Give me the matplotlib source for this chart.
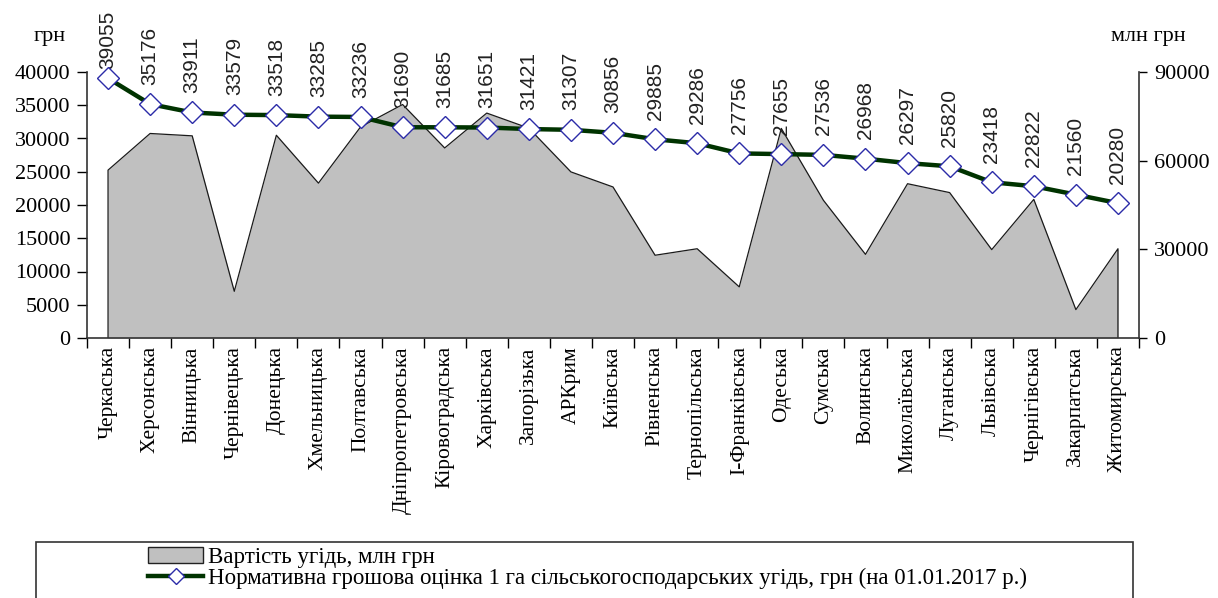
import matplotlib.pyplot as plt
from matplotlib.patches import Rectangle
from matplotlib.ticker import FixedLocator

regions = ['Черкаська', 'Херсонська', 'Вінницька', 'Чернівецька', 'Донецька',
           'Хмельницька', 'Полтавська', 'Дніпропетровська', 'Кіровоградська',
           'Харківська', 'Запорізька', 'АРКрим', 'Київська', 'Рівненська',
           'Тернопільська', 'І-Франківська', 'Одеська', 'Сумська', 'Волинська',
           'Миколаївська', 'Луганська', 'Львівська', 'Чернігівська',
           'Закарпатська', 'Житомирська']

# нормативна грошова оцінка 1 га, грн
price_per_ha = [39055, 35176, 33911, 33579, 33518, 33285, 33236, 31690, 31685,
                31651, 31421, 31307, 30856, 29885, 29286, 27756, 27655, 27536,
                26968, 26297, 25820, 23418, 22822, 21560, 20280]

# вартість угідь, млн грн (оцінено з графіка)
land_value = [56800, 69200, 68400, 15800, 68600, 52400, 71400, 79000, 64300,
              76100, 71000, 56200, 51100, 28000, 30200, 17300, 70900, 46600,
              28300, 52200, 49200, 29900, 46900, 9600, 30200]

serif = 'Liberation Serif'
x = list(range(len(regions)))

fig = plt.figure(figsize=(12.18, 5.98), dpi=100)
ax = fig.add_axes([87/1218, 1-338/598, (1139-87)/1218, (338-72)/598])
ax2 = ax.twinx()

# area on the right axis (млн грн)
ax.fill_between(x, land_value, 0, color='#c0c0c0', lw=0, zorder=1)
ax.plot([0] + x + [x[-1]], [0] + land_value + [0], color='#1a1a1a', lw=0.9, zorder=2)
ax.set_ylim(0, 90000)
ax.set_xlim(-0.5, len(regions) - 0.5)
ax.yaxis.tick_right()
ax.set_yticks([0, 30000, 60000, 90000])
ax.tick_params(axis='y', direction='out', length=6, width=1, pad=5, labelsize=16)

ax.set_xticks(x)
ax.set_xticklabels(regions, rotation=90, fontfamily=serif, fontsize=15.5)
ax.xaxis.set_minor_locator(FixedLocator([i - 0.5 for i in range(len(regions) + 1)]))
ax.tick_params(axis='x', which='major', length=0, pad=6)
ax.tick_params(axis='x', which='minor', length=7, width=1, direction='out')

ax.spines['top'].set_visible(False)
ax.spines['left'].set_visible(False)
for s in ['right', 'bottom']:
    ax.spines[s].set_color('#333333')
    ax.spines[s].set_linewidth(1.2)

# line on the left axis (грн)
ax2.plot(x, price_per_ha, color='#003300', lw=3.2, marker='D', ms=11,
         mfc='white', mec='#2b2ba8', mew=1, zorder=5, clip_on=False)
ax2.set_ylim(0, 40000)
ax2.yaxis.tick_left()
ax2.set_yticks(range(0, 40001, 5000))
ax2.tick_params(axis='y', direction='out', length=7, width=1, pad=5, labelsize=16)
for s in ['top', 'right', 'bottom']:
    ax2.spines[s].set_visible(False)
ax2.spines['left'].set_color('#333333')
ax2.spines['left'].set_linewidth(1.2)

for lab in ax.get_yticklabels() + ax2.get_yticklabels():
    lab.set_fontfamily(serif)

for i, v in zip(x, price_per_ha):
    off = 7 if i == 0 else 14
    ax2.annotate(str(v), (i, v), xytext=(0, off), textcoords='offset points',
                 rotation=90, ha='center', va='bottom', fontsize=15,
                 fontfamily='Liberation Sans', color='#222222', annotation_clip=False)

fig.text(50/1218, 1-37/598, 'грн', fontsize=16, fontfamily=serif, ha='center', va='center')
fig.text(1148/1218, 1-37/598, 'млн грн', fontsize=16, fontfamily=serif, ha='center', va='center')

# legend box
fig.patches.append(Rectangle((36/1218, -0.02), (1133-36)/1218, 0.02 + 1-542/598,
                             transform=fig.transFigure, fill=False,
                             ec='#333333', lw=1.2))
h1 = Rectangle((0, 0), 1, 1, fc='#c0c0c0', ec='#222222', lw=1)
h2, = ax2.plot([], [], color='#003300', lw=3.2, marker='D', ms=8,
               mfc='white', mec='#2b2ba8', mew=1)
fig.legend([h1, h2],
           ['Вартість угідь, млн грн',
            'Нормативна грошова оцінка 1 га сільськогосподарських угідь, грн (на 01.01.2017 р.)'],
           loc='upper left', bbox_to_anchor=(132/1218, 1-531/598), frameon=False,
           prop={'family': serif, 'size': 16.5}, handlelength=2.4, handletextpad=0.2,
           labelspacing=0.0, borderpad=0.2)

fig.savefig('out.png', dpi=100)
